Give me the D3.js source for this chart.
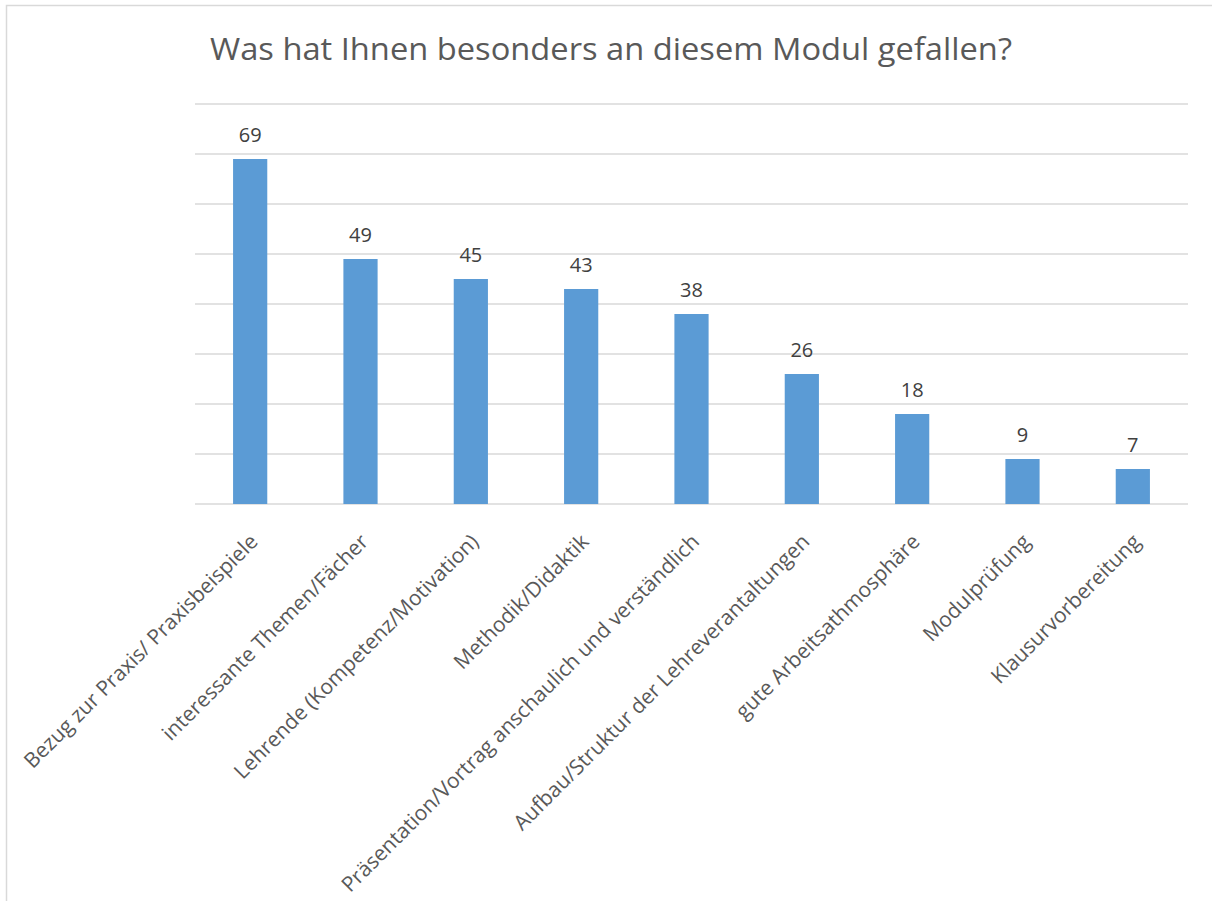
<!DOCTYPE html>
<html>
<head>
<meta charset="utf-8">
<script src="https://cdn.jsdelivr.net/npm/d3@7"></script>
<style>
  html, body { margin: 0; padding: 0; background: #fff; }
  svg { display: block; }
</style>
</head>
<body>
<script>
// Survey answers: what participants liked about the module
const title = "Was hat Ihnen besonders an diesem Modul gefallen?";
const categories = [
  "Bezug zur Praxis/ Praxisbeispiele",
  "interessante Themen/Fächer",
  "Lehrende (Kompetenz/Motivation)",
  "Methodik/Didaktik",
  "Präsentation/Vortrag anschaulich und verständlich",
  "Aufbau/Struktur der Lehreverantaltungen",
  "gute Arbeitsathmosphäre",
  "Modulprüfung",
  "Klausurvorbereitung"
];
const counts = [69, 49, 45, 43, 38, 26, 18, 9, 7];
const gridTicks = [0, 10, 20, 30, 40, 50, 60, 70, 80];

const W = 1212, H = 901;
const margin = { left: 195, right: 24, top: 104, bottom: 397 };

const svg = d3.select("body").append("svg")
  .attr("width", W).attr("height", H);

// chart frame
svg.append("path")
  .attr("d", `M6.5,${H + 5} V5.5 H${W + 5}`)
  .attr("fill", "none")
  .attr("stroke", "#d9d9d9")
  .attr("stroke-width", 1.5);

const x = d3.scaleBand()
  .domain(categories)
  .range([margin.left, W - margin.right])
  .paddingInner(0.69)
  .paddingOuter(0.345);

const y = d3.scaleLinear()
  .domain([0, 80])
  .range([H - margin.bottom, margin.top]);

// horizontal gridlines
svg.append("g")
  .selectAll("line")
  .data(gridTicks)
  .join("line")
  .attr("x1", margin.left)
  .attr("x2", W - margin.right)
  .attr("y1", d => y(d))
  .attr("y2", d => y(d))
  .attr("stroke", "#d9d9d9")
  .attr("stroke-width", 1.5);

// bars
svg.append("g")
  .selectAll("rect")
  .data(counts)
  .join("rect")
  .attr("x", (d, i) => x(categories[i]))
  .attr("width", x.bandwidth())
  .attr("y", d => y(d))
  .attr("height", d => y(0) - y(d))
  .attr("fill", "#5b9bd5");

// value labels
svg.append("g")
  .selectAll("text")
  .data(counts)
  .join("text")
  .attr("x", (d, i) => x(categories[i]) + x.bandwidth() / 2)
  .attr("y", d => y(d) - 17)
  .attr("text-anchor", "middle")
  .attr("font-family", "'Open Sans', sans-serif")
  .attr("font-size", 20)
  .attr("fill", "#404040")
  .text(d => d);

// category labels, rotated
svg.append("g")
  .selectAll("text")
  .data(categories)
  .join("text")
  .attr("transform", d => `translate(${x(d) + x.bandwidth() / 2 + 9},${y(0) + 39}) rotate(-45)`)
  .attr("text-anchor", "end")
  .attr("font-family", "'Open Sans', sans-serif")
  .attr("font-size", 21)
  .attr("fill", "#595959")
  .text(d => d);

// title
svg.append("text")
  .attr("x", 611)
  .attr("y", 60)
  .attr("text-anchor", "middle")
  .attr("font-family", "'Open Sans', sans-serif")
  .attr("font-size", 31)
  .attr("textLength", 802)
  .attr("lengthAdjust", "spacingAndGlyphs")
  .attr("fill", "#595959")
  .text(title);
</script>
</body>
</html>
